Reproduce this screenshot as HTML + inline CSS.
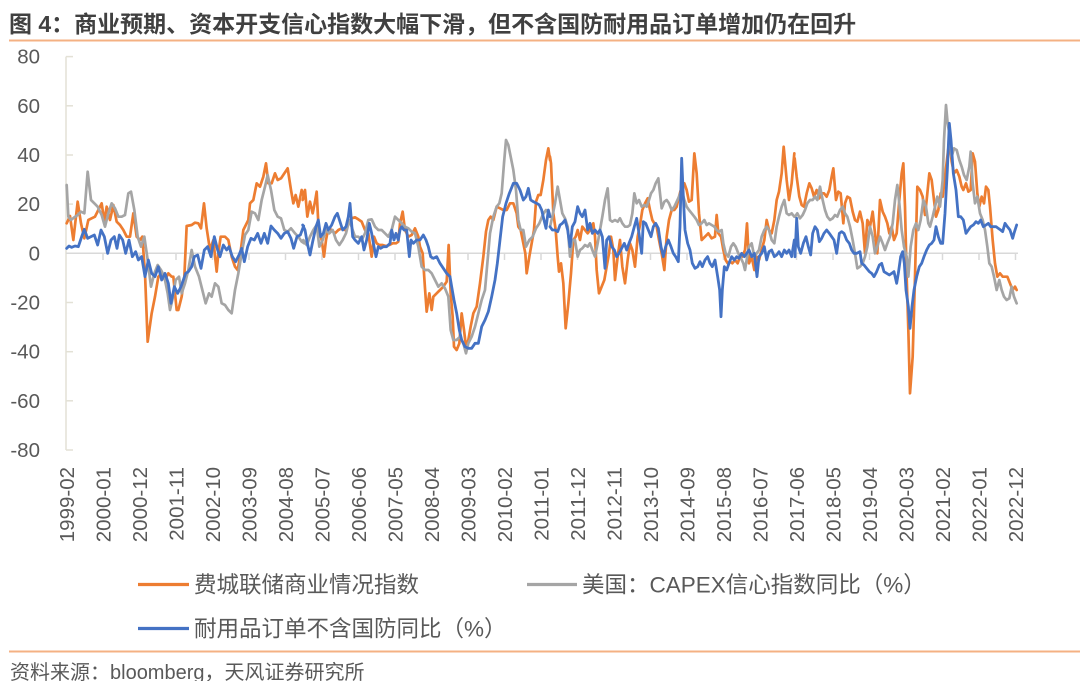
<!DOCTYPE html>
<html><head><meta charset="utf-8"><style>
html,body{margin:0;padding:0;background:#fff;}
svg{display:block;}
</style></head><body>
<svg width="1080" height="681" viewBox="0 0 1080 681" xmlns="http://www.w3.org/2000/svg">
<rect width="1080" height="681" fill="#fff"/>
<text x="9" y="32" font-family="'Liberation Sans','Noto Sans CJK SC',sans-serif" font-weight="bold" font-size="23" fill="#404040">图 4：商业预期、资本开支信心指数大幅下滑，但不含国防耐用品订单增加仍在回升</text>
<line x1="9" y1="40.5" x2="1080" y2="40.5" stroke="#F4B183" stroke-width="2"/>
<line x1="9" y1="651.5" x2="1080" y2="651.5" stroke="#F4B183" stroke-width="2"/>

<g stroke="#e3e1d6" stroke-width="1.5" fill="none">
<line x1="66" y1="56.6" x2="66" y2="450"/>
<line x1="66" y1="56.6" x2="73" y2="56.6"/><line x1="66" y1="105.8" x2="73" y2="105.8"/><line x1="66" y1="155" x2="73" y2="155"/><line x1="66" y1="204.1" x2="73" y2="204.1"/><line x1="66" y1="302.5" x2="73" y2="302.5"/><line x1="66" y1="351.7" x2="73" y2="351.7"/><line x1="66" y1="400.8" x2="73" y2="400.8"/><line x1="66" y1="450" x2="73" y2="450"/>
</g>
<g stroke="#d9d9d9" stroke-width="1.5" fill="none">
<line x1="66" y1="253.3" x2="1018" y2="253.3"/>
<path d="M103 253v7M139.5 253v7M176 253v7M212.5 253v7M249 253v7M285.5 253v7M322 253v7M358.5 253v7M395 253v7M431.5 253v7M468 253v7M504.5 253v7M541 253v7M577.5 253v7M614 253v7M650.5 253v7M687 253v7M723.5 253v7M760 253v7M796.5 253v7M833 253v7M869.5 253v7M906 253v7M942.5 253v7M979 253v7M1015.5 253v7"/>
</g>

<g font-family="'Liberation Sans',sans-serif" font-size="20.5" fill="#595959" text-anchor="end">
<text x="40" y="63.6">80</text><text x="40" y="112.8">60</text><text x="40" y="162">40</text><text x="40" y="211.1">20</text><text x="40" y="260.3">0</text><text x="40" y="309.5">-20</text><text x="40" y="358.7">-40</text><text x="40" y="407.8">-60</text><text x="40" y="457">-80</text>
</g>

<g font-family="'Liberation Sans',sans-serif" font-size="20.5" fill="#595959" text-anchor="end">
<text transform="translate(74,467) rotate(-90)">1999-02</text>
<text transform="translate(110.5,467) rotate(-90)">2000-01</text>
<text transform="translate(147,467) rotate(-90)">2000-12</text>
<text transform="translate(183.5,467) rotate(-90)">2001-11</text>
<text transform="translate(220,467) rotate(-90)">2002-10</text>
<text transform="translate(256.5,467) rotate(-90)">2003-09</text>
<text transform="translate(293,467) rotate(-90)">2004-08</text>
<text transform="translate(329.5,467) rotate(-90)">2005-07</text>
<text transform="translate(366,467) rotate(-90)">2006-06</text>
<text transform="translate(402.5,467) rotate(-90)">2007-05</text>
<text transform="translate(439,467) rotate(-90)">2008-04</text>
<text transform="translate(475.5,467) rotate(-90)">2009-03</text>
<text transform="translate(512,467) rotate(-90)">2010-02</text>
<text transform="translate(548.5,467) rotate(-90)">2011-01</text>
<text transform="translate(585,467) rotate(-90)">2011-12</text>
<text transform="translate(621.5,467) rotate(-90)">2012-11</text>
<text transform="translate(658,467) rotate(-90)">2013-10</text>
<text transform="translate(694.5,467) rotate(-90)">2014-09</text>
<text transform="translate(731,467) rotate(-90)">2015-08</text>
<text transform="translate(767.5,467) rotate(-90)">2016-07</text>
<text transform="translate(804,467) rotate(-90)">2017-06</text>
<text transform="translate(840.5,467) rotate(-90)">2018-05</text>
<text transform="translate(877,467) rotate(-90)">2019-04</text>
<text transform="translate(913.5,467) rotate(-90)">2020-03</text>
<text transform="translate(950,467) rotate(-90)">2021-02</text>
<text transform="translate(986.5,467) rotate(-90)">2022-01</text>
<text transform="translate(1023,467) rotate(-90)">2022-12</text>
</g>

<!-- ORANGE -->
<g fill="none" stroke="#ED7D31" stroke-width="2.7" stroke-linejoin="round" stroke-linecap="round">
<polyline vector-effect="non-scaling-stroke" transform="translate(55,140) scale(0.33333)" points="35,250 45,228 55,300 68,185 78,250 88,295 100,240 110,235 120,230 130,210 140,190 148,245 155,200 165,240 175,195 185,245 195,255 205,270 215,290 225,290 235,220 245,290 255,300 262,290 270,400 278,605 290,520 300,470 310,410 320,400 330,420 340,400 350,410 355,410 365,510 370,510 380,470 388,410 395,258 410,255 420,248 430,250 438,265 447,190 455,265 465,330 475,300 485,395 490,340 497,290 510,290 520,300 530,350 540,380 548,390 555,350 565,270 580,240 585,190 595,180 605,130 615,140 625,110 633,70 640,130 650,130 660,100 668,120 678,115 688,100 698,85 708,150 715,190 722,165 730,200 740,150 748,175"/>
<polyline vector-effect="non-scaling-stroke" transform="translate(300,130) scale(0.33333)" points="8,210 15,180 22,260 30,215 38,250 45,215 50,185 56,300 65,330 72,380 78,330 85,295 95,300 105,310 115,300 125,295 135,300 145,280 155,265 165,262 175,268 185,275 195,300 205,310 215,380 222,320 230,340 238,345 248,345 258,348 268,345 278,340 288,340 295,335 300,280 308,245 315,300 320,310 325,320 335,315 345,295 355,320 360,350 368,370 375,475 380,545 388,490 395,540 400,500 410,490 420,480 430,470 440,455 446,345 452,490 458,560 462,650 470,660 478,640 485,550 492,600 498,650 505,630 512,590 520,550 530,530 540,460 550,380 558,305 565,270 572,260 580,270 590,230 600,235 610,240 620,240 630,220 640,220 650,250 655,290 662,300 668,330 676,370 680,430 688,380 695,340 702,300 708,215 715,195 722,195 730,150 738,90 745,55 750,90"/>
<polyline vector-effect="non-scaling-stroke" transform="translate(545,130) scale(0.33333)" points="15,80 18,100 25,250 32,300 38,380 42,425 48,400 55,460 62,595 70,520 78,430 85,330 92,320 98,300 105,330 112,290 120,300 128,310 135,300 145,280 150,320 155,420 162,490 170,470 178,450 185,410 192,370 198,320 205,360 210,450 218,380 225,330 232,410 240,460 248,390 255,340 262,360 270,410 278,320 285,285 292,240 300,220 308,205 315,240 322,270 328,280 335,290 342,330 350,370 358,420 365,320 372,270 380,240 388,240 395,230 402,200 410,170 418,160 425,180 432,215 440,210 448,70 455,130 462,250 470,330 480,320 490,310 500,325 510,320 515,255 520,310 528,320 535,360 542,390 548,400 555,395 562,400 570,390 578,400 585,380 592,380 600,360 606,280 612,400 620,380 628,420 635,380 642,390 650,360 658,330 665,270 672,300 680,310 688,270 695,210 702,185 710,130 716,50 725,150 732,210 740,160 748,70"/>
<polyline vector-effect="non-scaling-stroke" transform="translate(790,90) scale(0.33333)" points="14,205 20,260 28,320 35,345 42,350 50,310 58,280 65,295 72,320 80,300 88,325 95,310 102,310 110,320 118,300 125,260 130,235 138,330 145,305 152,310 160,400 165,340 172,320 180,325 188,365 195,390 202,395 210,365 218,400 225,490 232,390 240,410 248,365 255,430 262,490 270,330 278,365 285,380 292,400 298,430 305,410 312,450 320,430 328,330 335,250 340,220 345,350 350,560 355,720 360,910 368,800 375,560 382,290 390,300 398,320 405,375 410,330 418,250 425,270 432,330 438,380 445,360 452,310 458,320 465,260 472,200 478,150 485,215 492,250 500,240 508,260 515,290 520,300 528,280 535,305 542,300 548,190 555,215 562,310 568,350 575,320 582,340 588,290 595,300 600,350 608,450 615,520 622,560 630,550 638,560 645,560 652,560 660,580 668,600 675,590 680,600"/>
</g>

<!-- GRAY -->
<g fill="none" stroke="#A5A5A5" stroke-width="2.7" stroke-linejoin="round" stroke-linecap="round">
<polyline vector-effect="non-scaling-stroke" transform="translate(55,140) scale(0.33333)" points="35,135 40,230 48,240 58,232 68,225 78,215 88,220 98,95 108,180 118,190 128,200 140,225 150,260 160,220 170,190 180,205 190,230 200,230 210,225 220,160 228,155 238,210 248,290 258,320 268,290 278,360 288,440 298,400 308,375 318,390 328,410 338,460 345,510 352,480 362,420 372,410 380,460 390,430 400,390 410,330 420,380 432,410 442,450 452,490 462,460 470,470 480,430 490,440 500,490 510,495 520,510 530,520 540,450 550,400 560,340 570,285 580,270 590,215 600,220 610,240 620,180 630,140 638,105 648,150 658,210 668,230 678,235 688,270 698,275 708,265 720,280 730,290 740,305 748,310"/>
<polyline vector-effect="non-scaling-stroke" transform="translate(300,130) scale(0.33333)" points="10,330 20,345 30,320 40,300 50,285 58,350 68,330 78,300 88,310 98,300 108,330 118,345 128,330 138,310 148,270 158,300 165,320 175,320 185,330 195,310 205,270 215,268 225,290 235,300 245,300 255,310 265,320 275,300 285,260 295,270 305,280 315,290 325,295 335,305 345,310 355,350 365,410 375,420 385,420 395,430 405,450 415,470 425,460 435,475 445,500 452,600 460,630 470,630 480,620 490,640 498,670 505,640 515,620 525,590 535,550 545,510 555,480 562,400 570,310 580,260 590,230 598,220 605,190 612,100 618,30 625,45 632,80 640,120 648,180 655,270 662,300 670,300 678,350 688,330 698,320 708,295 718,280 728,255 738,240 748,250"/>
<polyline vector-effect="non-scaling-stroke" transform="translate(545,130) scale(0.33333)" points="15,290 22,260 30,220 38,170 45,210 52,250 60,265 68,290 75,380 82,330 90,330 98,380 105,360 112,355 120,345 128,350 135,340 142,360 150,380 158,340 165,300 172,260 180,210 188,175 195,270 202,275 210,270 218,275 225,265 232,280 240,290 248,290 255,285 262,250 268,190 275,220 282,210 290,230 298,225 305,230 312,210 318,190 325,180 332,160 340,145 345,190 350,235 358,215 365,210 372,220 380,240 388,230 395,215 402,200 410,180 418,210 425,230 432,240 440,250 448,260 455,270 462,285 470,280 478,270 485,285 492,280 500,285 508,290 515,300 522,305 530,300 535,340 542,370 550,380 558,350 565,340 572,350 580,370 588,385 595,400 600,420 605,390 612,350 620,340 628,380 635,370 642,360 650,320 658,300 665,290 672,300 680,330 688,340 695,290 702,260 710,230 718,210 725,250 732,255 740,250 748,260"/>
<polyline vector-effect="non-scaling-stroke" transform="translate(790,90) scale(0.33333)" points="15,380 22,370 30,385 38,375 45,360 52,340 60,330 68,330 75,320 82,330 90,290 98,330 105,360 112,380 120,390 128,385 135,375 142,380 150,360 158,350 165,370 172,380 180,410 188,450 195,490 202,535 210,530 218,520 225,500 232,470 240,410 248,440 255,490 262,470 270,440 278,460 285,480 292,460 300,440 308,400 315,330 322,285 328,340 335,420 342,470 350,500 355,560 362,470 370,420 378,400 385,420 392,390 400,330 408,350 415,400 420,410 428,380 435,350 442,320 450,350 458,270 462,150 468,45 473,100 478,130 485,200 492,175 500,180 508,210 515,230 522,255 530,270 538,230 542,185 548,280 555,340 562,320 570,370 578,390 585,420 592,470 598,520 605,530 612,560 620,600 628,570 635,600 642,620 650,630 658,625 665,590 672,620 680,640"/>
</g>

<!-- BLUE -->
<g fill="none" stroke="#4472C4" stroke-width="2.8" stroke-linejoin="round" stroke-linecap="round">
<polyline vector-effect="non-scaling-stroke" transform="translate(55,140) scale(0.33333)" points="35,325 42,318 50,322 60,318 70,320 80,290 88,268 98,295 108,290 118,285 128,315 138,270 148,290 158,340 168,300 178,290 186,325 193,285 203,300 212,340 222,300 232,350 242,335 250,360 260,350 270,410 280,360 290,400 300,410 310,380 320,420 330,400 340,430 348,490 358,440 368,460 378,440 385,420 392,400 400,395 410,380 418,350 428,345 438,385 448,330 458,320 468,350 478,290 488,330 495,350 505,315 515,330 522,320 532,350 542,365 552,345 560,325 568,365 578,320 588,295 598,300 608,280 618,310 628,280 638,310 648,258 658,270 668,280 678,295 688,280 698,275 708,295 716,325 726,290 736,285 746,258"/>
<polyline vector-effect="non-scaling-stroke" transform="translate(300,130) scale(0.33333)" points="8,285 15,300 22,340 30,375 38,335 48,290 55,270 62,320 70,310 78,280 85,300 95,285 105,260 112,250 120,275 128,300 138,290 145,260 150,220 158,320 165,330 175,340 185,320 192,360 200,330 208,280 215,310 222,350 228,380 235,350 242,355 250,350 260,350 270,340 275,300 282,330 288,310 295,330 300,300 305,290 312,300 320,300 328,380 333,330 340,340 350,330 360,330 370,315 378,330 385,350 392,380 400,385 410,380 420,400 430,415 440,430 450,440 455,470 462,510 470,550 478,600 485,630 495,650 505,655 515,655 525,640 535,640 545,590 555,570 565,545 575,500 585,450 592,400 600,330 608,260 618,220 628,190 640,160 650,160 660,180 670,210 678,200 685,175 692,210 700,215 710,220 718,225 725,240 732,270 738,295 745,240 750,260"/>
<polyline vector-effect="non-scaling-stroke" transform="translate(545,130) scale(0.33333)" points="15,290 22,300 30,300 38,305 45,285 52,280 60,270 68,300 75,350 82,290 90,275 98,230 105,250 112,260 120,240 128,300 135,280 142,310 150,300 158,310 165,300 172,320 180,415 185,330 192,320 200,350 208,360 215,380 222,370 230,355 238,340 245,360 252,340 260,320 268,290 275,265 282,310 290,370 295,275 302,280 310,300 318,320 325,290 332,280 340,295 348,350 355,380 362,350 370,330 378,350 385,370 392,380 400,395 405,290 410,85 415,200 420,300 428,340 435,360 442,400 450,415 458,410 465,395 472,410 480,390 488,380 495,400 502,410 510,390 518,440 524,480 528,560 532,480 538,410 545,420 552,400 560,380 568,390 575,380 582,385 590,370 598,380 605,370 612,360 620,380 628,370 636,440 642,380 650,370 658,350 665,390 672,365 680,360 688,380 695,375 702,365 710,380 718,360 725,370 732,360 740,380 748,330"/>
<polyline vector-effect="non-scaling-stroke" transform="translate(790,90) scale(0.33333)" points="15,500 20,385 25,470 32,490 40,460 48,440 55,470 62,495 68,430 75,410 82,420 88,455 95,445 102,430 110,420 118,430 125,440 132,450 140,490 148,430 155,425 162,430 170,450 178,460 185,480 192,490 200,490 210,485 215,520 222,525 230,535 238,545 245,550 252,560 260,545 268,525 275,520 282,545 290,550 298,555 305,550 312,545 320,580 325,550 332,500 338,485 343,520 348,600 355,650 360,715 366,650 372,600 380,560 388,530 395,520 402,500 410,480 418,465 425,460 432,450 438,410 445,440 452,460 458,460 465,370 472,240 478,100 483,150 490,250 498,300 505,380 512,380 520,390 528,430 535,420 542,410 550,405 558,395 565,400 572,390 580,410 588,405 595,400 602,410 610,410 618,410 625,415 632,420 638,425 645,400 652,410 660,420 668,445 672,430 680,405"/>
</g>

<!-- LEGEND -->
<g font-family="'Liberation Sans','Noto Sans CJK SC',sans-serif" font-size="22.5" fill="#595959">
<line x1="138" y1="584.5" x2="189" y2="584.5" stroke="#ED7D31" stroke-width="3.2"/>
<text x="194" y="592.5">费城联储商业情况指数</text>
<line x1="527" y1="584.5" x2="577" y2="584.5" stroke="#A5A5A5" stroke-width="3.2"/>
<text x="582" y="592.5">美国：CAPEX信心指数同比（%）</text>
<line x1="138" y1="628.5" x2="189" y2="628.5" stroke="#4472C4" stroke-width="3.2"/>
<text x="194" y="636.5">耐用品订单不含国防同比（%）</text>
</g>

<text x="10" y="679" font-family="'Liberation Sans','Noto Sans CJK SC',sans-serif" font-size="20" fill="#595959">资料来源：bloomberg，天风证券研究所</text>
</svg>
</body></html>
